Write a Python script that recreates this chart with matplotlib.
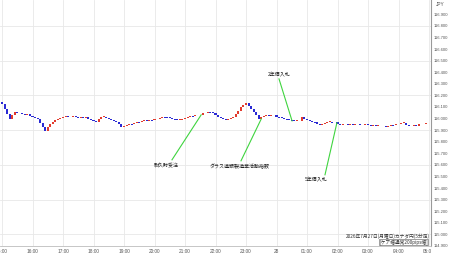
import matplotlib
matplotlib.use("Agg")
import matplotlib.pyplot as plt
import numpy as np
from matplotlib.transforms import Bbox, TransformedBbox, IdentityTransform

plt.rcParams['font.family'] = ['Noto Sans CJK JP', 'DejaVu Sans']

# ---- data ----
first_open = 116.140
closes = [
    116.125, 116.085, 116.040, 116.000, 116.035, 116.060, 116.052, 116.045, 116.040, 116.030,
    116.036, 116.022, 116.010, 116.004, 115.992, 115.965, 115.925, 115.895, 115.930, 115.955,
    115.968, 115.985, 115.995, 116.005, 116.012, 116.018, 116.010, 116.016, 116.020, 116.014,
    116.008, 116.015, 116.005, 116.012, 115.998, 115.988, 115.978, 115.968, 115.995, 116.012,
    116.016, 116.002, 115.996, 115.984, 115.980, 115.968, 115.955, 115.930, 115.938, 115.945,
    115.955, 115.950, 115.962, 115.970, 115.966, 115.975, 115.985, 115.982, 115.990, 115.985,
    115.992, 116.000, 116.008, 116.016, 116.012, 116.010, 116.002, 115.996, 115.992, 115.986,
    115.990, 115.996, 116.006, 116.014, 116.022, 116.018, 116.028, 116.034, 116.030, 116.044,
    116.052, 116.058, 116.054, 116.048, 116.030, 116.015, 116.004, 115.996, 115.988, 115.998,
    116.006, 116.016, 116.040, 116.066, 116.098, 116.120, 116.135, 116.110, 116.086, 116.058,
    116.034, 115.998, 116.010, 116.020, 116.032, 116.024, 116.028, 116.032, 116.016, 116.010,
    116.006, 115.998, 115.992, 115.988, 115.984, 115.980, 115.982, 115.978, 116.015, 115.998,
    115.985, 115.980, 115.972, 115.968, 115.955, 115.945, 115.952, 115.962, 115.968, 115.972,
    115.966, 115.974, 115.955, 115.946, 115.950, 115.954, 115.948, 115.952, 115.946, 115.950,
    115.954, 115.948, 115.944, 115.950, 115.946, 115.940, 115.944, 115.936, 115.940, 115.932,
    115.936, 115.930, 115.938, 115.946, 115.942, 115.950, 115.955, 115.960, 115.964, 115.946,
    115.940, 115.936, 115.942, 115.938, 115.950, 115.956, 115.952, 115.958, 115.962,
]
hour_labels = ["15:00", "16:00", "17:00", "18:00", "19:00", "20:00", "21:00", "22:00",
               "23:00", "28", "01:00", "02:00", "03:00", "04:00", "05:00"]
y_ticks = [114.9, 115.0, 115.1, 115.2, 115.3, 115.4, 115.5, 115.6, 115.7, 115.8, 115.9,
           116.0, 116.1, 116.2, 116.3, 116.4, 116.5, 116.6, 116.7, 116.8, 116.9]
event_labels = ["耐久財受注", "ダラス連銀製造業活動指数", "2年債入札", "5年債入札"]
event_hours = [6.53, 8.5, 9.51, 10.98]
event_prices = [116.032, 115.997, 115.980, 115.963]

title_line1 = "2026年7月27日(月曜日)カナダ円(5分足)"
title_line2 = "[ケア幅通常200pips幅]"

# ---- figure ----
W, H = 450, 258
fig = plt.figure(figsize=(W / 100, H / 100), dpi=100)
ax_right_px = 431
ax_bottom_px = 246
ax = fig.add_axes([0, (H - ax_bottom_px) / H, ax_right_px / W, ax_bottom_px / H])

px_per_hour = 30.5
x0_px = 2.0
py_ref, price_ref, px_per_unit = 14.3, 116.9, 116.0


def px2x(px):
    return (px - x0_px) / px_per_hour


def py2y(py):
    return price_ref - (py - py_ref) / px_per_unit


ax.set_xlim(px2x(0), px2x(ax_right_px))
ax.set_ylim(py2y(ax_bottom_px), py2y(0))

closes_a = np.array(closes)
opens_a = np.concatenate([[first_open], closes_a[:-1]])
xs = np.arange(len(closes_a)) / 12.0
up = closes_a >= opens_a
heights = closes_a - opens_a
min_h = 0.007
heights = np.where(np.abs(heights) < min_h, np.where(up, min_h, -min_h), heights)
colors = np.where(up, "#e23b2e", "#2a2ad4")
ax.bar(xs, heights, bottom=opens_a, width=0.066, color=colors, linewidth=0, zorder=3)

# grid
for h in range(len(hour_labels)):
    ax.axvline(h, color="#e8e8e8", lw=0.6, zorder=0)
for g in [115.0, 115.3, 115.6, 115.9, 116.2, 116.5, 116.8]:
    ax.axhline(g, color="#e8e8e8", lw=0.6, zorder=0)

# axes styling
for s in ["left", "top"]:
    ax.spines[s].set_visible(False)
ax.spines["right"].set_color("#9a9a9a")
ax.spines["right"].set_linewidth(0.8)
ax.spines["bottom"].set_color("#bdbdbd")
ax.spines["bottom"].set_linewidth(0.6)

tick_font = ["Liberation Sans", "DejaVu Sans"]
ax.set_xticks(range(len(hour_labels)))
ax.set_xticklabels(hour_labels, family=tick_font)
ax.tick_params(axis="x", length=0, pad=2.5, labelsize=3.4, labelcolor="#555555")
ax.yaxis.tick_right()
ax.set_yticks(y_ticks)
ax.set_yticklabels([f"{v:.3f}" for v in y_ticks], family=tick_font)
ax.tick_params(axis="y", length=0, pad=2, labelsize=3.0, labelcolor="#555555")

clip = TransformedBbox(Bbox([[0, 0], [ax_right_px, H]]), IdentityTransform())
last_lbl = ax.get_xticklabels()[-1]
last_lbl.set_clip_on(True)
last_lbl.set_clip_box(clip)

fig.text(436 / W, 1 - 5 / H, "JPY", fontsize=3.4, family=tick_font, color="#555555", va="center", ha="left")

# annotations
text_px = [(166, 166), (240, 167), (279, 75), (316, 180)]
line_end_px = [(172, 160), (241, 161), (279, 79), (325, 175)]
for lab, eh, ep, (tx, ty), (lx, ly) in zip(event_labels, event_hours, event_prices, text_px, line_end_px):
    ax.plot([eh, px2x(lx)], [ep, py2y(ly)], color="#3fd43f", lw=0.8, zorder=4)
    ax.text(px2x(tx), py2y(ty), lab, fontsize=3.6, color="#222222", ha="center", va="center", zorder=5)

fig.text(430 / W, 1 - 236.5 / H, title_line1, fontsize=3.4, color="#333333", ha="right", va="center")
fig.text(428 / W, 1 - 242 / H, title_line2, fontsize=3.4, color="#333333", ha="right", va="center",
         bbox=dict(boxstyle="square,pad=0.1", fc="white", ec="#555555", lw=0.4))

fig.savefig("out.png", dpi=100, facecolor="white")
